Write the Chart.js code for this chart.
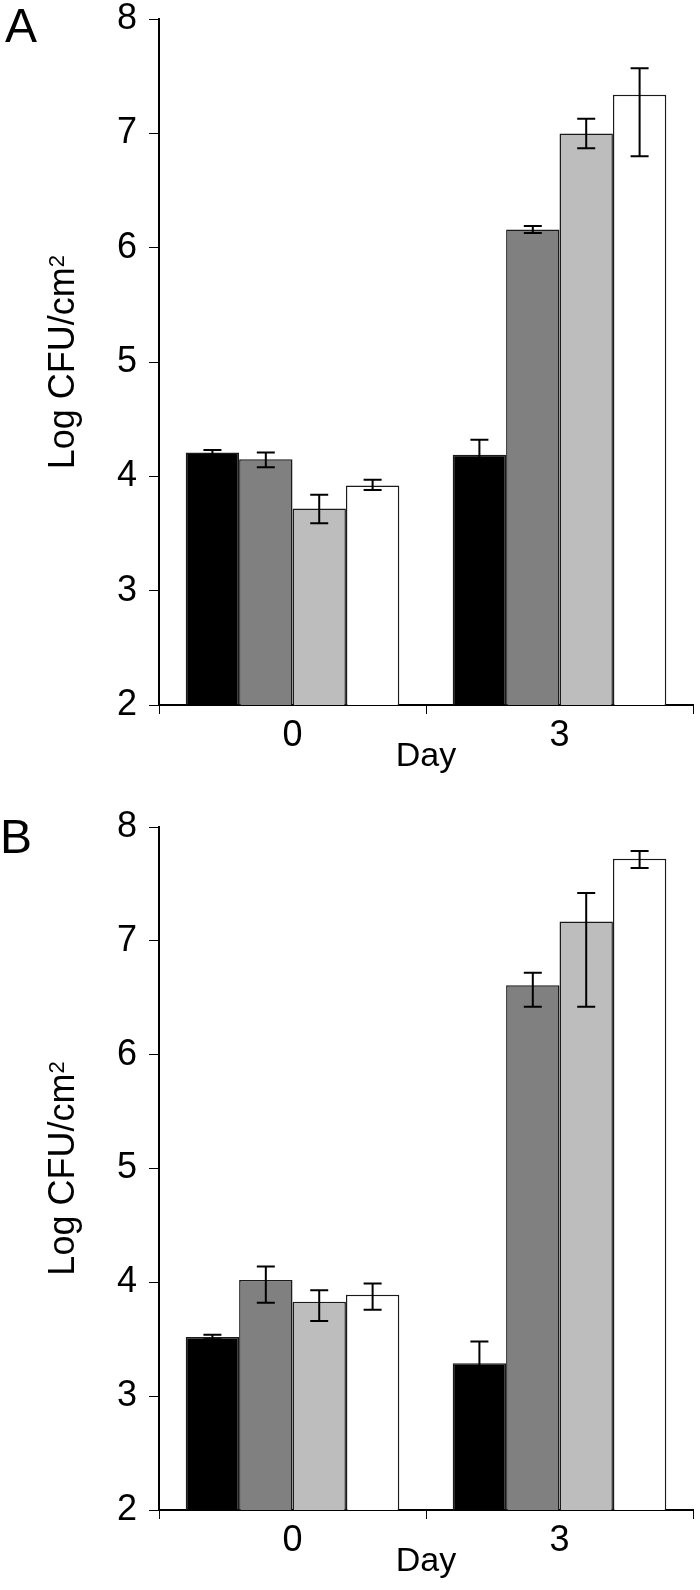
<!DOCTYPE html>
<html>
<head>
<meta charset="utf-8">
<script src="https://cdn.jsdelivr.net/npm/chart.js@4.4.0/dist/chart.umd.min.js"></script>
<style>
  body { margin: 0; background: #fff; overflow: hidden; }
  .panel { position: absolute; left: 0; width: 700px; height: 795px; }
  .tag { position: absolute; font: 48px "Liberation Sans", Arial, sans-serif; color: #000; line-height: 1; }
</style>
</head>
<body>
<div class="panel" style="top:0"><canvas id="chartA" width="700" height="795"></canvas></div>
<div class="panel" style="top:795px"><canvas id="chartB" width="700" height="795"></canvas></div>
<div class="tag" style="left:5px; top:2px">A</div>
<div class="tag" style="left:0px; top:813px">B</div>
<script>
// categories
const days = ['0', '3'];

// panel A - means (log CFU/cm2), one array per bar shade
const aBlack = [4.21, 4.19];
const aDark  = [4.15, 6.16];
const aLight = [3.72, 7.00];
const aWhite = [3.92, 7.34];
// panel A - error bars (upper / lower)
const aBlackUp = [0.02, 0.13], aBlackDn = [0.02, 0.13];
const aDarkUp  = [0.06, 0.03], aDarkDn  = [0.07, 0.03];
const aLightUp = [0.12, 0.13], aLightDn = [0.13, 0.13];
const aWhiteUp = [0.05, 0.23], aWhiteDn = [0.04, 0.54];

// panel B - means
const bBlack = [3.52, 3.29];
const bDark  = [4.02, 6.61];
const bLight = [3.83, 7.17];
const bWhite = [3.89, 7.72];
// panel B - error bars
const bBlackUp = [0.02, 0.19], bBlackDn = [0.02, 0.19];
const bDarkUp  = [0.12, 0.11], bDarkDn  = [0.20, 0.19];
const bLightUp = [0.10, 0.25], bLightDn = [0.17, 0.75];
const bWhiteUp = [0.10, 0.07], bWhiteDn = [0.13, 0.08];

// y ticks
const yMin = 2, yMax = 8, yStep = 1;

const shades = ['#000000', '#808080', '#bdbdbd', '#ffffff'];
const FONT = '"Liberation Sans", Arial, sans-serif';

// draws the whiskers on top of each bar
const errorBars = {
  id: 'errorBars',
  afterDatasetsDraw(chart) {
    const ctx = chart.ctx;
    const yScale = chart.scales.y;
    ctx.save();
    ctx.strokeStyle = '#000';
    ctx.lineWidth = 2;
    chart.data.datasets.forEach((ds, i) => {
      const meta = chart.getDatasetMeta(i);
      meta.data.forEach((bar, j) => {
        const v = ds.data[j];
        const yHi = yScale.getPixelForValue(v + ds.errUp[j]);
        const yLo = yScale.getPixelForValue(v - ds.errDn[j]);
        const x = bar.x;
        ctx.beginPath();
        ctx.moveTo(x, yHi); ctx.lineTo(x, yLo);
        ctx.moveTo(x - 9, yHi); ctx.lineTo(x + 9, yHi);
        ctx.moveTo(x - 9, yLo); ctx.lineTo(x + 9, yLo);
        ctx.stroke();
      });
    });
    ctx.restore();
  }
};

// y axis title with a real superscript "2"
const yTitle = {
  id: 'yTitle',
  afterDraw(chart) {
    const ctx = chart.ctx;
    const area = chart.chartArea;
    const main = 'Log CFU/cm', sup = '2';
    ctx.save();
    ctx.fillStyle = '#000';
    ctx.textBaseline = 'alphabetic';
    ctx.textAlign = 'left';
    ctx.font = '36px ' + FONT;
    const wMain = ctx.measureText(main).width;
    ctx.font = '22px ' + FONT;
    const wSup = ctx.measureText(sup).width;
    const total = wMain + wSup;
    ctx.translate(area.left - 85, (area.top + area.bottom) / 2);
    ctx.rotate(-Math.PI / 2);
    ctx.font = '36px ' + FONT;
    ctx.fillText(main, -total / 2, 0);
    ctx.font = '22px ' + FONT;
    ctx.fillText(sup, -total / 2 + wMain, -10);
    ctx.restore();
  }
};

function makePanel(id, values, ups, downs, padTop, padBottom) {
  const ctx = document.getElementById(id).getContext('2d');
  return new Chart(ctx, {
    type: 'bar',
    data: {
      labels: days,
      datasets: values.map((vals, i) => ({
        data: vals,
        errUp: ups[i],
        errDn: downs[i],
        backgroundColor: shades[i],
        borderColor: '#1a1a1a',
        borderWidth: 1.5,
        categoryPercentage: 0.8,
        barPercentage: 1.0
      }))
    },
    options: {
      responsive: false,
      animation: false,
      layout: { padding: { left: 105, right: 7, top: padTop, bottom: padBottom } },
      plugins: { legend: { display: false }, tooltip: { enabled: false } },
      scales: {
        x: {
          grid: { drawOnChartArea: false, tickLength: 9, color: '#000', lineWidth: 1 },
          border: { color: '#000', width: 2 },
          ticks: { color: '#000', padding: 0, font: { family: FONT, size: 36 } },
          title: {
            display: true, text: 'Day', color: '#000',
            font: { family: FONT, size: 34 },
            padding: { top: -21, bottom: 0 }
          }
        },
        y: {
          min: yMin, max: yMax,
          grid: { drawOnChartArea: false, tickLength: 10, color: '#000', lineWidth: 1 },
          border: { color: '#000', width: 2 },
          ticks: { stepSize: yStep, color: '#000', padding: 12, font: { family: FONT, size: 36, lineHeight: 0.4 } }
        }
      }
    },
    plugins: [errorBars, yTitle]
  });
}

makePanel('chartA',
  [aBlack, aDark, aLight, aWhite],
  [aBlackUp, aDarkUp, aLightUp, aWhiteUp],
  [aBlackDn, aDarkDn, aLightDn, aWhiteDn],
  19, 18);

makePanel('chartB',
  [bBlack, bDark, bLight, bWhite],
  [bBlackUp, bDarkUp, bLightUp, bWhiteUp],
  [bBlackDn, bDarkDn, bLightDn, bWhiteDn],
  32, 8);
</script>
</body>
</html>
